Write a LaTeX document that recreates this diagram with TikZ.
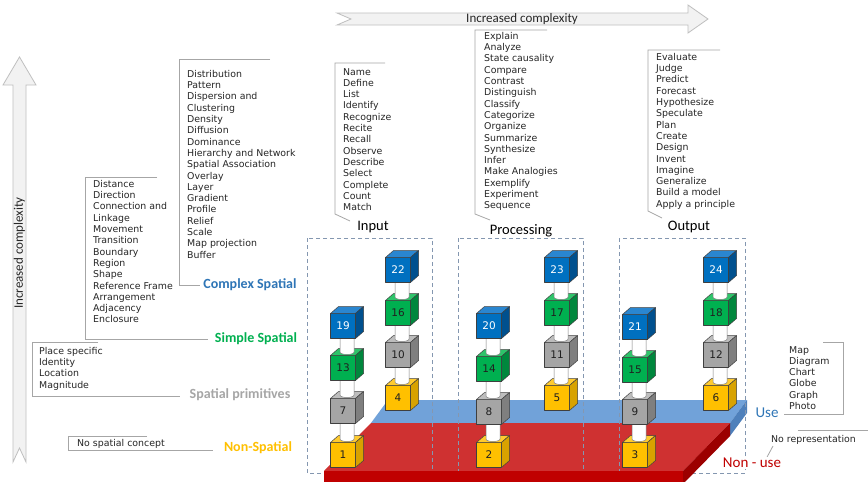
\documentclass[tikz,border=0pt]{standalone}
\usepackage{fontspec}
\setmainfont{DejaVu Sans}
\newfontfamily\calib{Carlito}
\definecolor{txt}{HTML}{262626}
\definecolor{bracketgray}{HTML}{A6A6A6}
\definecolor{arrowfill}{HTML}{F2F2F2}
\definecolor{arrowdraw}{HTML}{BFBFBF}
\definecolor{dashc}{HTML}{8497B0}
\definecolor{edge}{HTML}{3F3F3F}
\definecolor{cylgray}{HTML}{7F7F7F}
\definecolor{cblue}{HTML}{2E75B6}
\definecolor{cgreen}{HTML}{00B050}
\definecolor{cgray}{HTML}{A6A6A6}
\definecolor{cyellow}{HTML}{FFC000}
\definecolor{cred}{HTML}{C00000}
\definecolor{yfront}{HTML}{FFC000}
\definecolor{ytop}{HTML}{FFCB2F}
\definecolor{yside}{HTML}{D8A200}
\definecolor{ytxt}{HTML}{202020}
\definecolor{gfront}{HTML}{A5A5A5}
\definecolor{gtop}{HTML}{BDBDBD}
\definecolor{gside}{HTML}{7F7F7F}
\definecolor{gtxt}{HTML}{202020}
\definecolor{nfront}{HTML}{00B050}
\definecolor{ntop}{HTML}{2EC46A}
\definecolor{nside}{HTML}{00873D}
\definecolor{ntxt}{HTML}{202020}
\definecolor{bfront}{HTML}{0070C0}
\definecolor{btop}{HTML}{2A86D0}
\definecolor{bside}{HTML}{00508E}
\definecolor{btxt}{HTML}{FFFFFF}
\definecolor{bluetop}{HTML}{71A2D9}
\definecolor{blueside}{HTML}{4E80BB}
\definecolor{redtop}{HTML}{CF3131}
\definecolor{redfront}{HTML}{C00000}
\definecolor{redside}{HTML}{9C0000}
\newcommand\mkcube[5]{%
 \filldraw[cubeedge, fill=#3front] (#1-12.5,#2-12.5) rectangle (#1+12.5,#2+12.5);
 \filldraw[cubeedge, fill=#3top] (#1-12.5,#2-12.5) -- (#1-4.5,#2-19.5) -- (#1+20.5,#2-19.5) -- (#1+12.5,#2-12.5) -- cycle;
 \filldraw[cubeedge, fill=#3side] (#1+12.5,#2-12.5) -- (#1+20.5,#2-19.5) -- (#1+20.5,#2+5.5) -- (#1+12.5,#2+12.5) -- cycle;
 \node[cubelabel, text=#3txt] (#5) at (#1,#2) {#4};
}
\newcommand\mkcyl[3]{%
 \filldraw[cylst] (#1-3,#2) -- (#1-3,#3-16) .. controls (#1-3,#3-12.7) and (#1+11,#3-12.7) .. (#1+11,#3-16) -- (#1+11,#2) -- cycle;
}
\tikzset{
 brk/.style={draw=bracketgray, line width=0.8pt},
 lst/.style={anchor=north west, inner sep=0pt, align=left, font=\fontsize{9.4}{11.3}\selectfont, text=txt},
 cat/.style={inner sep=0pt, font=\calib\bfseries\fontsize{14}{16}\selectfont},
 ipo/.style={inner sep=0pt, text=black, font=\calib\fontsize{14.5}{16}\selectfont},
 cubeedge/.style={draw=edge, line width=0.5pt, line join=round},
 cylst/.style={draw=cylgray, fill=white, line width=0.5pt},
 cubelabel/.style={inner sep=0pt, font=\fontsize{10.5}{11}\selectfont},
 dbox/.style={draw=dashc, dash pattern=on 4pt off 3pt, line width=0.8pt},
 bigarrow/.style={fill=arrowfill, draw=arrowdraw, line width=0.8pt, line join=miter},
 arrtext/.style={inner sep=0pt, text=txt, font=\calib\fontsize{13}{15}\selectfont},
}
\begin{document}
\begin{tikzpicture}[x=1pt,y=-1pt]
\fill[white] (0,0) rectangle (868,482);
\path[use as bounding box] (0,0) rectangle (868,482);

% big arrows
\filldraw[bigarrow] (337,13) -- (688,13) -- (688,5) -- (708,19) -- (688,33) -- (688,25) -- (337,25) -- (351,19) -- cycle;
\node[arrtext] (topcx) at (522,19) {Increased complexity};
\filldraw[bigarrow] (13,462) -- (13,85) -- (3,85) -- (19.5,57) -- (36,85) -- (26,85) -- (26,462) -- (19.5,448) -- cycle;
\node[arrtext, rotate=90] (leftcx) at (19.5,253) {Increased complexity};

% brackets
\draw[brk] (270,59) -- (179,59) -- (179,285) -- (200,285);
\draw[brk] (157,177) -- (85,177) -- (85,339) -- (208,339);
\draw[brk] (98,342) -- (32,342) -- (32,396) -- (180,396);
\draw[brk] (147,436) -- (68,436) -- (68,450) -- (213,450);
\draw[brk] (385,63) -- (335,63) -- (335,214) -- (350,221);
\draw[brk] (547,30) -- (475,30) -- (475,214) -- (490,220);
\draw[brk] (720,50) -- (648,50) -- (648,211) -- (662,218);
\draw[brk] (823,342) -- (843,342) -- (843,414) -- (784,414);
\draw[brk] (868,430) -- (798,430);
\draw[brk] (773,446) -- (766,459);

% lists
\node[lst] (lcomplex) at (187,70) {Distribution\\Pattern\\Dispersion and\\Clustering\\Density\\Diffusion\\Dominance\\Hierarchy and Network\\Spatial Association\\Overlay\\Layer\\Gradient\\Profile\\Relief\\Scale\\Map projection\\Buffer};
\node[lst] (lsimple) at (93,180) {Distance\\Direction\\Connection and\\Linkage\\Movement\\Transition\\Boundary\\Region\\Shape\\Reference Frame\\Arrangement\\Adjacency\\Enclosure};
\node[lst] (lprim) at (39,347) {Place specific\\Identity\\Location\\Magnitude};
\node[lst] (lnon) at (77,439) {No spatial concept};
\node[lst] (linput) at (343,68) {Name\\Define\\List\\Identify\\Recognize\\Recite\\Recall\\Observe\\Describe\\Select\\Complete\\Count\\Match};
\node[lst] (lproc) at (484,32) {Explain\\Analyze\\State causality\\Compare\\Contrast\\Distinguish\\Classify\\Categorize\\Organize\\Summarize\\Synthesize\\Infer\\Make Analogies\\Exemplify\\Experiment\\Sequence};
\node[lst] (lout) at (656,53) {Evaluate\\Judge\\Predict\\Forecast\\Hypothesize\\Speculate\\Plan\\Create\\Design\\Invent\\Imagine\\Generalize\\Build a model\\Apply a principle};
\node[lst] (lmap) at (789,346) {Map\\Diagram\\Chart\\Globe\\Graph\\Photo};
\node[lst] (lnorep) at (771,435) {No representation};

% category labels
\node[cat, text=cblue] (complex) at (250,285) {Complex Spatial};
\node[cat, text=cgreen] (simple) at (256,339) {Simple Spatial};
\node[cat, text=cgray] (prim) at (240,395) {Spatial primitives};
\node[cat, text=cyellow] (nonsp) at (258,448) {Non-Spatial};
\node[ipo] (input) at (373,227) {Input};
\node[ipo] (processing) at (521,231) {Processing};
\node[ipo] (output) at (689,227) {Output};

% platform
\fill[bluetop] (388,400) -- (747,400) -- (730,423) -- (371,423) -- cycle;
\fill[blueside] (747,400) -- (747,413) -- (730,436) -- (730,423) -- cycle;
\fill[redtop] (371,423) -- (730,423) -- (683,471) -- (324,471) -- cycle;

% dashed boxes
\draw[dbox] (307,238) rectangle (432,473);
\draw[dbox] (458,238) rectangle (583,473);
\draw[dbox] (619,238) rectangle (745,473);

\fill[redfront] (324,471) rectangle (683,483);
\fill[redside] (730,423) -- (730,436) -- (683,484) -- (683,471) -- cycle;

\node[cat, text=cblue, font=\calib\fontsize{15}{17}\selectfont] (use) at (767,413) {Use};
\node[cat, text=cred, fill=white, inner sep=1pt, font=\calib\fontsize{15}{17}\selectfont] (nonuse) at (752,463) {Non - use};

% column A (input, left)
\mkcube{343}{455}{y}{1}{c1}
\mkcyl{343}{411}{455}
\mkcube{343}{411}{g}{7}{c7}
\mkcyl{343}{368}{411}
\mkcube{343}{368}{n}{13}{c13}
\mkcyl{343}{326}{368}
\mkcube{343}{326}{b}{19}{c19}
% column B
\mkcube{398}{398}{y}{4}{c4}
\mkcyl{398}{355}{398}
\mkcube{398}{355}{g}{10}{c10}
\mkcyl{398}{313}{355}
\mkcube{398}{313}{n}{16}{c16}
\mkcyl{398}{270}{313}
\mkcube{398}{270}{b}{22}{c22}
% column C
\mkcube{489}{455}{y}{2}{c2}
\mkcyl{489}{412}{455}
\mkcube{489}{412}{g}{8}{c8}
\mkcyl{489}{369}{412}
\mkcube{489}{369}{n}{14}{c14}
\mkcyl{489}{326}{369}
\mkcube{489}{326}{b}{20}{c20}
% column D
\mkcube{557}{398}{y}{5}{c5}
\mkcyl{557}{355}{398}
\mkcube{557}{355}{g}{11}{c11}
\mkcyl{557}{313}{355}
\mkcube{557}{313}{n}{17}{c17}
\mkcyl{557}{270}{313}
\mkcube{557}{270}{b}{23}{c23}
% column E
\mkcube{635}{455}{y}{3}{c3}
\mkcyl{635}{412}{455}
\mkcube{635}{412}{g}{9}{c9}
\mkcyl{635}{370}{412}
\mkcube{635}{370}{n}{15}{c15}
\mkcyl{635}{327}{370}
\mkcube{635}{327}{b}{21}{c21}
% column F
\mkcube{716}{398}{y}{6}{c6}
\mkcyl{716}{355}{398}
\mkcube{716}{355}{g}{12}{c12}
\mkcyl{716}{313}{355}
\mkcube{716}{313}{n}{18}{c18}
\mkcyl{716}{270}{313}
\mkcube{716}{270}{b}{24}{c24}
\end{tikzpicture}
\end{document}
